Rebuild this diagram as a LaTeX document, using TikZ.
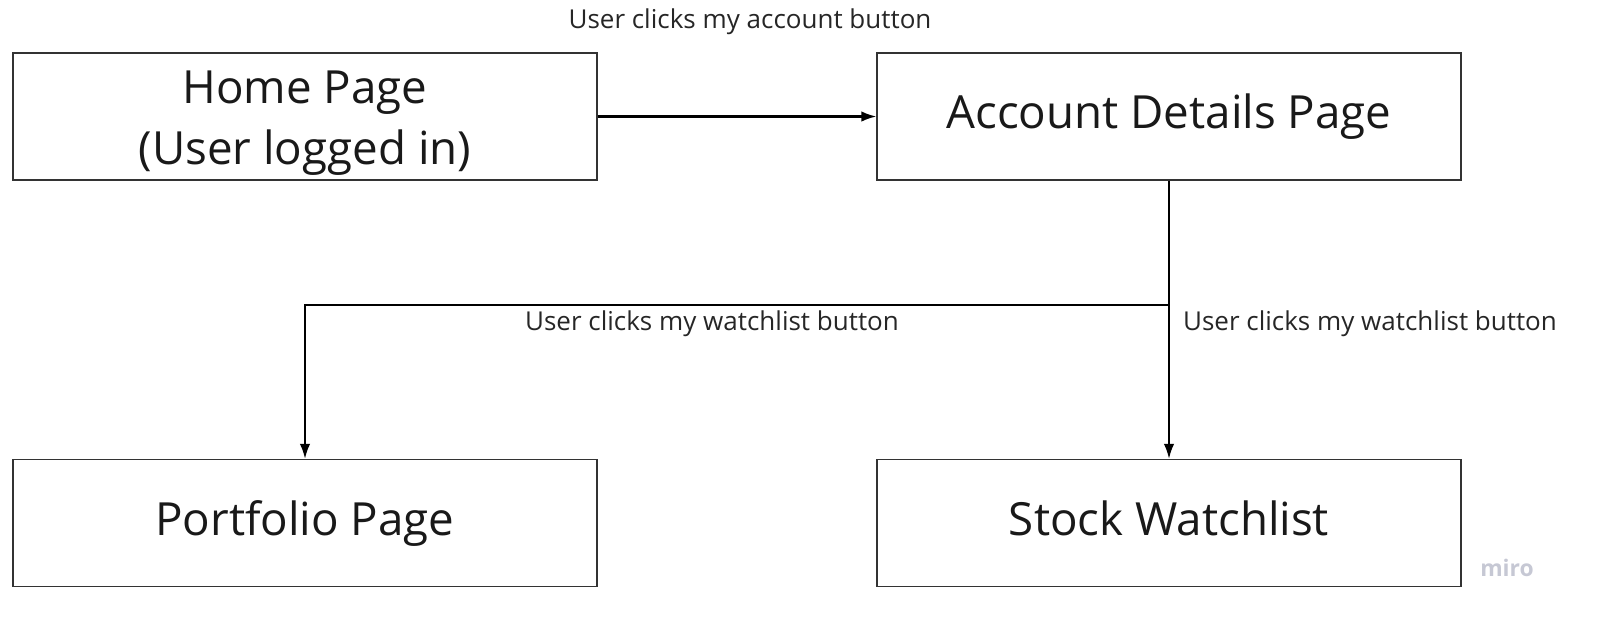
\documentclass[tikz,border=0pt]{standalone}
\usepackage{fontspec}
\setmainfont{Open Sans}
\usepackage{tikz}
\usetikzlibrary{arrows.meta}

\begin{document}
\begin{tikzpicture}[
  box/.style={draw=black!80,line width=0.35pt,minimum width=5.84cm,minimum height=1.27cm,
    align=center,font=\fontsize{13}{17.4}\selectfont,text=black!90,inner sep=0pt},
  page/.style={box,execute at end node=\strut},
  lbl/.style={font=\fontsize{7.4}{9}\selectfont,text=black!85,inner sep=0pt},
  flow/.style={line width=0.6pt,-{Latex[length=4.3pt,width=3pt]}}
]
  \useasboundingbox (0,0) rectangle (15.99,6.25);
  %\draw[thin,gray!40] (0,0) grid (16,6);
  \node[box] (home) at (3.05,5.085) {\rule{0pt}{13pt}Home Page\\(User logged in)};
  \node[page] (account) at (11.69,5.085) {Account Details Page};
  \node[page] (portfolio) at (3.05,1.02) {Portfolio Page};
  \node[page] (watchlist) at (11.69,1.02) {Stock Watchlist};
  \coordinate (split) at (11.69,3.20);

  \draw[flow] (home) -- (account);
  \draw[line width=0.6pt] (account) -- (split);
  \draw[flow] (split) -- (watchlist);
  \draw[flow] (split) -| (portfolio);

  \node[lbl] (lblaccount) at (7.50,6.03) {User clicks my account button};
  \node[lbl] (lblportfolio) at (7.12,3.01) {User clicks my watchlist button};
  \node[lbl] (lblwatchlist) at (13.70,3.01) {User clicks my watchlist button};
  \definecolor{mirogray}{RGB}{198,200,212}
  \node[lbl,text=mirogray,font=\fontsize{6.5}{8}\selectfont\bfseries] (miro) at (15.07,0.57) {miro};
\end{tikzpicture}
\end{document}
